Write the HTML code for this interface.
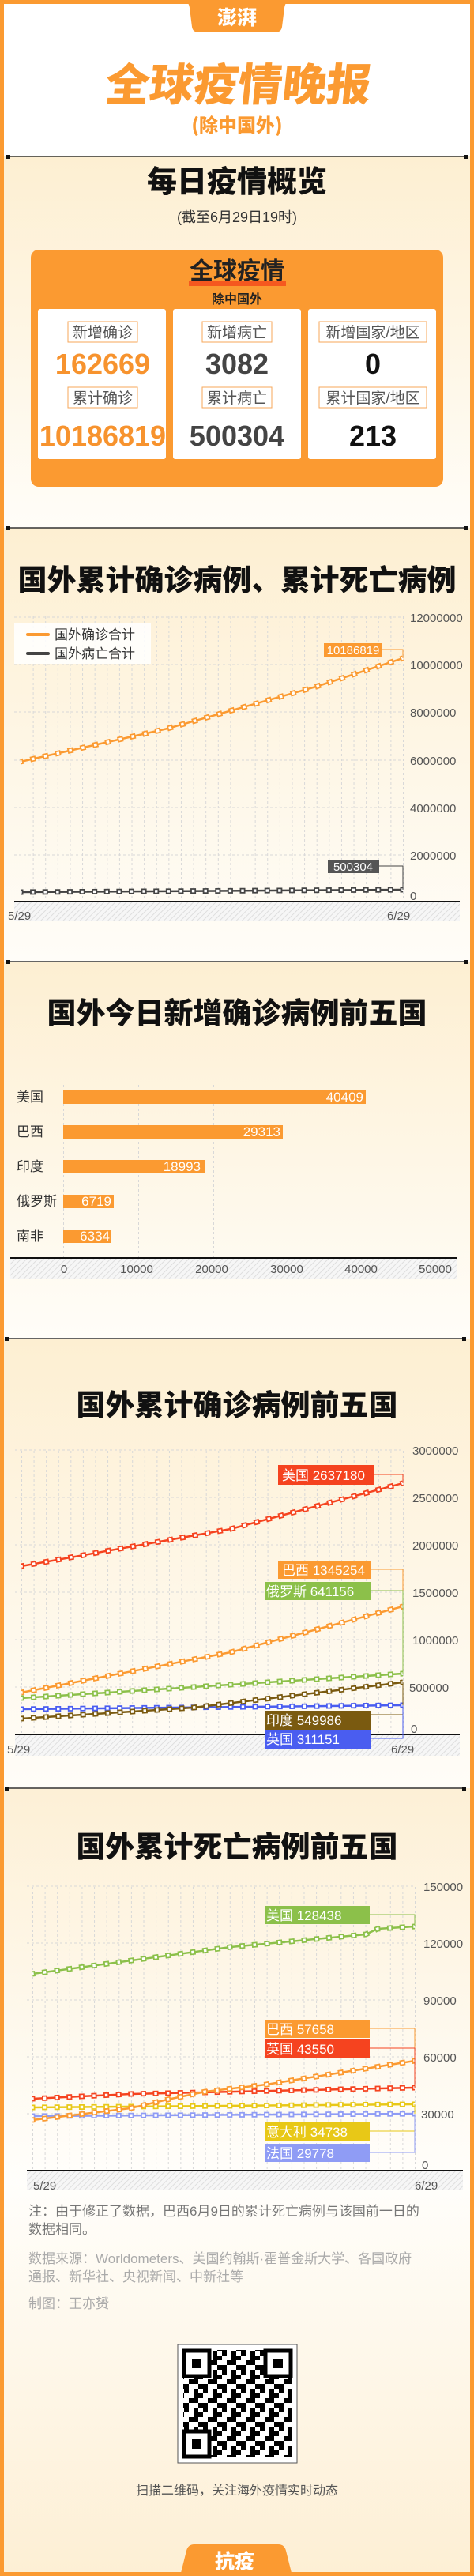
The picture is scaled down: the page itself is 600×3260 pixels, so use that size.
<!DOCTYPE html>
<html><head><meta charset="utf-8"><style>
html,body{margin:0;padding:0;background:#fff;}
body{width:600px;height:3260px;overflow:hidden;}
svg{display:block;font-family:"Liberation Sans","Noto Sans CJK SC",sans-serif;}
.cj{font-family:"Noto Sans CJK SC","WenQuanYi Zen Hei",sans-serif;}
.tk{font-size:15px;fill:#555;}
.lb{font-size:17px;fill:#fff;}
</style></head><body>
<svg width="600" height="3260" viewBox="0 0 600 3260" xmlns="http://www.w3.org/2000/svg">
<defs>
<linearGradient id="g1" x1="0" y1="0" x2="0" y2="1"><stop offset="0" stop-color="#fdefd2"/><stop offset="1" stop-color="#fffdf8"/></linearGradient>
<linearGradient id="g5" x1="0" y1="0" x2="0" y2="1"><stop offset="0" stop-color="#fdf0d6"/><stop offset="0.5" stop-color="#fffefb"/><stop offset="1" stop-color="#fdefd4"/></linearGradient>
<pattern id="hatch" width="5" height="5" patternUnits="userSpaceOnUse" patternTransform="rotate(45)"><rect width="5" height="5" fill="#f6f6f6"/><line x1="0" y1="0" x2="0" y2="5" stroke="#dedede" stroke-width="2"/></pattern>
<pattern id="vg1" x="26" y="0" width="15.613" height="6" patternUnits="userSpaceOnUse"><line x1="0.5" y1="0" x2="0.5" y2="3" stroke="#d8d8d8" stroke-width="1"/></pattern>
<pattern id="vg3" x="27" y="0" width="15.58" height="6" patternUnits="userSpaceOnUse"><line x1="0.5" y1="0" x2="0.5" y2="3" stroke="#d8d8d8" stroke-width="1"/></pattern>
<pattern id="vg4" x="41" y="0" width="15.613" height="6" patternUnits="userSpaceOnUse"><line x1="0.5" y1="0" x2="0.5" y2="3" stroke="#d8d8d8" stroke-width="1"/></pattern>
<pattern id="qr" x="233" y="2975" width="24" height="24" patternUnits="userSpaceOnUse"><rect x="0" y="0" width="6" height="6"/><rect x="12" y="0" width="6" height="12"/><rect x="6" y="12" width="12" height="6"/><rect x="18" y="6" width="6" height="6"/><rect x="0" y="18" width="6" height="6"/><rect x="18" y="18" width="6" height="6"/></pattern>
</defs>

<!-- backgrounds -->
<rect x="0" y="198" width="600" height="470" fill="url(#g1)"/>
<rect x="0" y="668" width="600" height="549" fill="url(#g1)"/>
<rect x="0" y="1217" width="600" height="477" fill="url(#g1)"/>
<rect x="0" y="1694" width="600" height="569" fill="url(#g1)"/>
<rect x="0" y="2263" width="600" height="997" fill="url(#g5)"/>

<!-- frame -->
<rect x="0" y="0" width="5" height="3260" fill="#fb9a31"/>
<rect x="595" y="0" width="5" height="3260" fill="#fb9a31"/>
<rect x="0" y="0" width="600" height="5" fill="#fb9a31"/>
<rect x="0" y="3255" width="600" height="5" fill="#fb9a31"/>
<path d="M232,0 L368,0 Q361,2 360,10 L357,34 Q356,41 348,41 L252,41 Q244,41 243,34 L240,10 Q239,2 232,0Z" fill="#fb9a31"/>
<text x="300" y="31" text-anchor="middle" class="cj" font-size="25" font-weight="900" fill="#fff">澎湃</text>

<!-- header -->
<text x="300" y="127" text-anchor="middle" class="cj" font-size="56" font-weight="900" fill="#fb9a31" transform="skewX(-6) translate(13,0)">全球疫情晚报</text>
<text x="300" y="167" text-anchor="middle" class="cj" font-size="24" font-weight="900" fill="#fb9a31">(除中国外)</text>

<!-- dividers -->
<g stroke="#333" stroke-width="1.5">
<line x1="10" y1="198" x2="590" y2="198"/><line x1="10" y1="668" x2="590" y2="668"/><line x1="10" y1="1217" x2="590" y2="1217"/><line x1="8" y1="1694" x2="588" y2="1694"/><line x1="8" y1="2263" x2="588" y2="2263"/>
</g>
<g fill="#111">
<rect x="8" y="196" width="5" height="5"/><rect x="587" y="196" width="5" height="5"/>
<rect x="8" y="666" width="5" height="5"/><rect x="587" y="666" width="5" height="5"/>
<rect x="8" y="1215" width="5" height="5"/><rect x="587" y="1215" width="5" height="5"/>
<rect x="6" y="1692" width="5" height="5"/><rect x="585" y="1692" width="5" height="5"/>
<rect x="6" y="2261" width="5" height="5"/><rect x="585" y="2261" width="5" height="5"/>
</g>

<!-- overview -->
<text x="300" y="243" text-anchor="middle" class="cj" font-size="38" font-weight="900" fill="#111">每日疫情概览</text>
<text x="300" y="281" text-anchor="middle" font-size="18" fill="#333">(截至6月29日19时)</text>
<rect x="39" y="316" width="522" height="300" rx="10" fill="#fb9a31"/>
<rect x="239" y="356" width="123" height="6" fill="#f5581f"/>
<text x="300" y="353" text-anchor="middle" class="cj" font-size="30" font-weight="700" fill="#222">全球疫情</text>
<text x="300" y="384" text-anchor="middle" class="cj" font-size="16" font-weight="700" fill="#222">除中国外</text>
<g fill="#fff"><rect x="48" y="391" width="162" height="190" rx="3"/><rect x="219" y="391" width="162" height="190" rx="3"/><rect x="390" y="391" width="162" height="190" rx="3"/></g>
<g fill="#fff" stroke="#f7a75a" stroke-width="1">
<rect x="86" y="407" width="88" height="26"/><rect x="86" y="490" width="88" height="26"/>
<rect x="256" y="407" width="88" height="26"/><rect x="256" y="490" width="88" height="26"/>
<rect x="404" y="407" width="136" height="26"/><rect x="404" y="490" width="136" height="26"/>
</g>
<g font-size="19" fill="#555" text-anchor="middle">
<text x="130" y="427">新增确诊</text><text x="130" y="510">累计确诊</text>
<text x="300" y="427">新增病亡</text><text x="300" y="510">累计病亡</text>
<text x="472" y="427">新增国家/地区</text><text x="472" y="510">累计国家/地区</text>
</g>
<g font-size="36" font-weight="700" text-anchor="middle">
<text x="130" y="473" fill="#f7932e">162669</text><text x="130" y="564" fill="#f7932e">10186819</text>
<text x="300" y="473" fill="#444">3082</text><text x="300" y="564" fill="#444">500304</text>
<text x="472" y="473" fill="#111">0</text><text x="472" y="564" fill="#111">213</text>
</g>

<!-- chart 1 -->
<text x="300" y="747" text-anchor="middle" class="cj" font-size="37" font-weight="900" fill="#111">国外累计确诊病例、累计死亡病例</text>
<rect x="25" y="779" width="488" height="362" fill="url(#vg1)"/>
<g stroke="#d8d8d8" stroke-dasharray="3 3"><line x1="18" y1="781" x2="512" y2="781"/><line x1="18" y1="841" x2="512" y2="841"/><line x1="18" y1="901" x2="512" y2="901"/><line x1="18" y1="962" x2="512" y2="962"/><line x1="18" y1="1022" x2="512" y2="1022"/><line x1="18" y1="1082" x2="512" y2="1082"/></g>
<g class="tk"><text x="519" y="787">12000000</text><text x="519" y="847">10000000</text><text x="519" y="907">8000000</text><text x="519" y="968">6000000</text><text x="519" y="1028">4000000</text><text x="519" y="1088">2000000</text><text x="519" y="1139">0</text></g>
<rect x="18" y="1142" width="564" height="23" fill="url(#hatch)"/>
<line x1="18" y1="1141" x2="582" y2="1141" stroke="#111" stroke-width="2"/>
<text x="10" y="1164" class="tk">5/29</text><text x="490" y="1164" class="tk">6/29</text>
<rect x="18" y="788" width="173" height="52" fill="#fff" opacity="0.85"/>
<line x1="35" y1="803" x2="61" y2="803" stroke="#fb9a31" stroke-width="4" stroke-linecap="round"/>
<line x1="35" y1="827" x2="61" y2="827" stroke="#444" stroke-width="4" stroke-linecap="round"/>
<text x="69" y="809" font-size="17" fill="#333">国外确诊合计</text><text x="69" y="833" font-size="17" fill="#333">国外病亡合计</text>
<g fill="none">
<path d="M26,964 L212,922 L400,869 L510,833" stroke="#fb9a31" stroke-width="2.5"/>
<path d="M26,964 L212,922 L400,869 L510,833" pathLength="31" stroke="#fb9a31" stroke-width="7" stroke-dasharray="0.45 0.55" stroke-dashoffset="0.225"/>
<path d="M26,964 L212,922 L400,869 L510,833" pathLength="31" stroke="#fff" stroke-width="3.5" stroke-dasharray="0.22 0.78" stroke-dashoffset="0.11"/>
<path d="M26,1129 L510,1126" stroke="#444" stroke-width="2.5"/>
<path d="M26,1129 L510,1126" pathLength="31" stroke="#444" stroke-width="7" stroke-dasharray="0.45 0.55" stroke-dashoffset="0.225"/>
<path d="M26,1129 L510,1126" pathLength="31" stroke="#fff" stroke-width="3.5" stroke-dasharray="0.22 0.78" stroke-dashoffset="0.11"/>
<polyline points="484,822 510,822 510,833" stroke="#fb9a31" stroke-width="1"/>
<polyline points="480,1096 510,1096 510,1126" stroke="#444" stroke-width="1"/>
</g>
<rect x="410" y="814" width="74" height="17" fill="#fb9a31"/><text x="447" y="828" text-anchor="middle" font-size="15" fill="#fff">10186819</text>
<rect x="415" y="1088" width="65" height="17" fill="#555"/><text x="447" y="1102" text-anchor="middle" font-size="15" fill="#fff">500304</text>

<!-- chart 2 -->
<text x="300" y="1295" text-anchor="middle" class="cj" font-size="37" font-weight="900" fill="#111">国外今日新增确诊病例前五国</text>
<g stroke="#d8d8d8" stroke-dasharray="3 3"><line x1="80.5" y1="1373" x2="80.5" y2="1592"/><line x1="175.5" y1="1373" x2="175.5" y2="1592"/><line x1="270.5" y1="1373" x2="270.5" y2="1592"/><line x1="364.5" y1="1373" x2="364.5" y2="1592"/><line x1="459.5" y1="1373" x2="459.5" y2="1592"/><line x1="554.5" y1="1373" x2="554.5" y2="1592"/></g>
<g fill="#fb9a31"><rect x="80" y="1380" width="383" height="17"/><rect x="80" y="1424" width="278" height="17"/><rect x="80" y="1468" width="180" height="17"/><rect x="80" y="1512" width="64" height="17"/><rect x="80" y="1556" width="60" height="17"/></g>
<g class="lb" text-anchor="end"><text x="460" y="1394">40409</text><text x="355" y="1438">29313</text><text x="254" y="1482">18993</text><text x="141" y="1526">6719</text><text x="139" y="1570">6334</text></g>
<g font-size="17" fill="#333"><text x="21" y="1394">美国</text><text x="21" y="1438">巴西</text><text x="21" y="1482">印度</text><text x="21" y="1526">俄罗斯</text><text x="21" y="1570">南非</text></g>
<rect x="13" y="1593" width="565" height="25" fill="url(#hatch)"/>
<line x1="13" y1="1592" x2="578" y2="1592" stroke="#111" stroke-width="2"/>
<g class="tk" text-anchor="middle"><text x="81" y="1611">0</text><text x="173" y="1611">10000</text><text x="268" y="1611">20000</text><text x="363" y="1611">30000</text><text x="457" y="1611">40000</text><text x="551" y="1611">50000</text></g>

<!-- chart 3 -->
<text x="300" y="1791" text-anchor="middle" class="cj" font-size="37" font-weight="900" fill="#111">国外累计确诊病例前五国</text>
<rect x="26" y="1834" width="488" height="361" fill="url(#vg3)"/>
<g stroke="#d8d8d8" stroke-dasharray="3 3"><line x1="19" y1="1835" x2="512" y2="1835"/><line x1="19" y1="1895" x2="512" y2="1895"/><line x1="19" y1="1955" x2="512" y2="1955"/><line x1="19" y1="2015" x2="512" y2="2015"/><line x1="19" y1="2075" x2="512" y2="2075"/><line x1="19" y1="2135" x2="512" y2="2135"/></g>
<g class="tk"><text x="522" y="1841">3000000</text><text x="522" y="1901">2500000</text><text x="522" y="1961">2000000</text><text x="522" y="2021">1500000</text><text x="522" y="2081">1000000</text><text x="518" y="2141">500000</text><text x="520" y="2193">0</text></g>
<rect x="19" y="2196" width="563" height="26" fill="url(#hatch)"/>
<line x1="19" y1="2195" x2="582" y2="2195" stroke="#111" stroke-width="2"/>
<text x="9" y="2219" class="tk">5/29</text><text x="495" y="2219" class="tk">6/29</text>
<g fill="none">
<g stroke="#8cc04a"><path d="M27,2149 L510,2118" stroke-width="2.5"/><path d="M27,2149 L510,2118" pathLength="31" stroke-width="7" stroke-dasharray="0.45 0.55" stroke-dashoffset="0.225"/></g>
<path d="M27,2149 L510,2118" pathLength="31" stroke="#fff" stroke-width="3.5" stroke-dasharray="0.22 0.78" stroke-dashoffset="0.11"/>
<g stroke="#4a5df0"><path d="M27,2163 L510,2158" stroke-width="2.5"/><path d="M27,2163 L510,2158" pathLength="31" stroke-width="7" stroke-dasharray="0.45 0.55" stroke-dashoffset="0.225"/></g>
<path d="M27,2163 L510,2158" pathLength="31" stroke="#fff" stroke-width="3.5" stroke-dasharray="0.22 0.78" stroke-dashoffset="0.11"/>
<g stroke="#7a5a10"><path d="M27,2175 L245,2161 L510,2129" stroke-width="2.5"/><path d="M27,2175 L245,2161 L510,2129" pathLength="31" stroke-width="7" stroke-dasharray="0.45 0.55" stroke-dashoffset="0.225"/></g>
<path d="M27,2175 L245,2161 L510,2129" pathLength="31" stroke="#fff" stroke-width="3.5" stroke-dasharray="0.22 0.78" stroke-dashoffset="0.11"/>
<g stroke="#fb9a31"><path d="M27,2142 L292,2091 L510,2033" stroke-width="2.5"/><path d="M27,2142 L292,2091 L510,2033" pathLength="31" stroke-width="7" stroke-dasharray="0.45 0.55" stroke-dashoffset="0.225"/></g>
<path d="M27,2142 L292,2091 L510,2033" pathLength="31" stroke="#fff" stroke-width="3.5" stroke-dasharray="0.22 0.78" stroke-dashoffset="0.11"/>
<g stroke="#f5431f"><path d="M27,1982 L292,1935 L510,1877" stroke-width="2.5"/><path d="M27,1982 L292,1935 L510,1877" pathLength="31" stroke-width="7" stroke-dasharray="0.45 0.55" stroke-dashoffset="0.225"/></g>
<path d="M27,1982 L292,1935 L510,1877" pathLength="31" stroke="#fff" stroke-width="3.5" stroke-dasharray="0.22 0.78" stroke-dashoffset="0.11"/>
<polyline points="473,1866 510,1866 510,1877" stroke="#f5431f" stroke-width="1"/>
<polyline points="469,1986 510,1986 510,2033" stroke="#fb9a31" stroke-width="1"/>
<polyline points="469,2013 510,2013 510,2118" stroke="#8cc04a" stroke-width="1"/>
<polyline points="469,2170 510,2170 510,2129" stroke="#7a5a10" stroke-width="1"/>
<polyline points="469,2200 510,2200 510,2158" stroke="#4a5df0" stroke-width="1"/>
</g>
<rect x="352" y="1854" width="121" height="25" fill="#f5431f"/><text x="357" y="1873" class="lb">美国  2637180</text>
<rect x="352" y="1975" width="117" height="23" fill="#fb9a31"/><text x="357" y="1993" class="lb">巴西 1345254</text>
<rect x="335" y="2002" width="134" height="23" fill="#8cc04a"/><text x="337" y="2020" class="lb">俄罗斯  641156</text>
<rect x="335" y="2165" width="134" height="24" fill="#7a5a10"/><text x="337" y="2183" class="lb">印度     549986</text>
<rect x="335" y="2189" width="134" height="24" fill="#4a5df0"/><text x="337" y="2207" class="lb">英国     311151</text>

<!-- chart 4 -->
<text x="300" y="2350" text-anchor="middle" class="cj" font-size="37" font-weight="900" fill="#111">国外累计死亡病例前五国</text>
<rect x="40" y="2386" width="488" height="361" fill="url(#vg4)"/>
<g stroke="#d8d8d8" stroke-dasharray="3 3"><line x1="34" y1="2387" x2="527" y2="2387"/><line x1="34" y1="2459" x2="527" y2="2459"/><line x1="34" y1="2531" x2="527" y2="2531"/><line x1="34" y1="2603" x2="527" y2="2603"/><line x1="34" y1="2675" x2="527" y2="2675"/></g>
<g class="tk"><text x="536" y="2393">150000</text><text x="536" y="2465">120000</text><text x="536" y="2537">90000</text><text x="536" y="2609">60000</text><text x="533" y="2681">30000</text><text x="534" y="2745">0</text></g>
<rect x="34" y="2748" width="552" height="24" fill="url(#hatch)"/>
<line x1="34" y1="2747" x2="586" y2="2747" stroke="#111" stroke-width="2"/>
<text x="42" y="2771" class="tk">5/29</text><text x="525" y="2771" class="tk">6/29</text>
<g fill="none">
<g stroke="#8f9cf5"><path d="M41,2678 L525,2675" stroke-width="2.5"/><path d="M41,2678 L525,2675" pathLength="31" stroke-width="7" stroke-dasharray="0.45 0.55" stroke-dashoffset="0.225"/></g>
<path d="M41,2678 L525,2675" pathLength="31" stroke="#fff" stroke-width="3.5" stroke-dasharray="0.22 0.78" stroke-dashoffset="0.11"/>
<g stroke="#e8c817"><path d="M41,2667 L525,2663" stroke-width="2.5"/><path d="M41,2667 L525,2663" pathLength="31" stroke-width="7" stroke-dasharray="0.45 0.55" stroke-dashoffset="0.225"/></g>
<path d="M41,2667 L525,2663" pathLength="31" stroke="#fff" stroke-width="3.5" stroke-dasharray="0.22 0.78" stroke-dashoffset="0.11"/>
<g stroke="#f5431f"><path d="M41,2656 L165,2650 L525,2642" stroke-width="2.5"/><path d="M41,2656 L165,2650 L525,2642" pathLength="31" stroke-width="7" stroke-dasharray="0.45 0.55" stroke-dashoffset="0.225"/></g>
<path d="M41,2656 L165,2650 L525,2642" pathLength="31" stroke="#fff" stroke-width="3.5" stroke-dasharray="0.22 0.78" stroke-dashoffset="0.11"/>
<g stroke="#fb9a31"><path d="M41,2683 L165,2668 L212,2657 L260,2647 L337,2638 L525,2608" stroke-width="2.5"/><path d="M41,2683 L165,2668 L212,2657 L260,2647 L337,2638 L525,2608" pathLength="31" stroke-width="7" stroke-dasharray="0.45 0.55" stroke-dashoffset="0.225"/></g>
<path d="M41,2683 L165,2668 L212,2657 L260,2647 L337,2638 L525,2608" pathLength="31" stroke="#fff" stroke-width="3.5" stroke-dasharray="0.22 0.78" stroke-dashoffset="0.11"/>
<g stroke="#8cc04a"><path d="M41,2498 L292,2464 L463,2448 L478,2441 L525,2438" stroke-width="2.5"/><path d="M41,2498 L292,2464 L463,2448 L478,2441 L525,2438" pathLength="31" stroke-width="7" stroke-dasharray="0.45 0.55" stroke-dashoffset="0.225"/></g>
<path d="M41,2498 L292,2464 L463,2448 L478,2441 L525,2438" pathLength="31" stroke="#fff" stroke-width="3.5" stroke-dasharray="0.22 0.78" stroke-dashoffset="0.11"/>
<polyline points="468,2423 525,2423 525,2438" stroke="#8cc04a" stroke-width="1"/>
<polyline points="468,2567 525,2567 525,2608" stroke="#fb9a31" stroke-width="1"/>
<polyline points="468,2592 525,2592 525,2642" stroke="#f5431f" stroke-width="1"/>
<polyline points="468,2697 525,2697 525,2663" stroke="#e8c817" stroke-width="1"/>
<polyline points="468,2724 525,2724 525,2675" stroke="#8f9cf5" stroke-width="1"/>
</g>
<rect x="335" y="2412" width="133" height="23" fill="#8cc04a"/><text x="337" y="2430" class="lb">美国       128438</text>
<rect x="335" y="2556" width="133" height="23" fill="#fb9a31"/><text x="337" y="2574" class="lb">巴西        57658</text>
<rect x="335" y="2581" width="133" height="23" fill="#f5431f"/><text x="337" y="2599" class="lb">英国        43550</text>
<rect x="335" y="2686" width="133" height="23" fill="#e8c817"/><text x="337" y="2704" class="lb">意大利  34738</text>
<rect x="335" y="2713" width="133" height="23" fill="#8f9cf5"/><text x="337" y="2731" class="lb">法国        29778</text>

<!-- notes -->
<g font-size="17"><text x="36" y="2804" fill="#777">注：由于修正了数据，巴西6月9日的累计死亡病例与该国前一日的</text>
<text x="36" y="2827" fill="#777">数据相同。</text>
<text x="36" y="2864" fill="#aaa">数据来源：Worldometers、美国约翰斯·霍普金斯大学、各国政府</text>
<text x="36" y="2887" fill="#aaa">通报、新华社、央视新闻、中新社等</text>
<text x="36" y="2921" fill="#aaa">制图：王亦赟</text></g>

<!-- QR -->
<rect x="225" y="2967" width="151" height="150" fill="#fff" stroke="#555" stroke-width="1"/>
<rect x="232" y="2974" width="137" height="136" fill="url(#qr)"/>
<g>
<rect x="232" y="2974" width="34" height="34" fill="#fff"/><rect x="335" y="2974" width="34" height="34" fill="#fff"/><rect x="232" y="3076" width="34" height="34" fill="#fff"/>
<rect x="233" y="2975" width="32" height="32" fill="none" stroke="#000" stroke-width="5"/><rect x="243" y="2985" width="12" height="12"/>
<rect x="336" y="2975" width="32" height="32" fill="none" stroke="#000" stroke-width="5"/><rect x="346" y="2985" width="12" height="12"/>
<rect x="233" y="3077" width="32" height="32" fill="none" stroke="#000" stroke-width="5"/><rect x="243" y="3087" width="12" height="12"/>
</g>
<text x="300" y="3157" text-anchor="middle" font-size="16" fill="#555">扫描二维码，关注海外疫情实时动态</text>

<!-- bottom tab -->
<path d="M228,3260 L236,3228 Q238,3220 246,3220 L352,3220 Q360,3220 362,3228 L370,3260Z" fill="#fb9a31"/>
<text x="297" y="3250" text-anchor="middle" class="cj" font-size="25" font-weight="900" fill="#fff">抗疫</text>
</svg>
</body></html>
